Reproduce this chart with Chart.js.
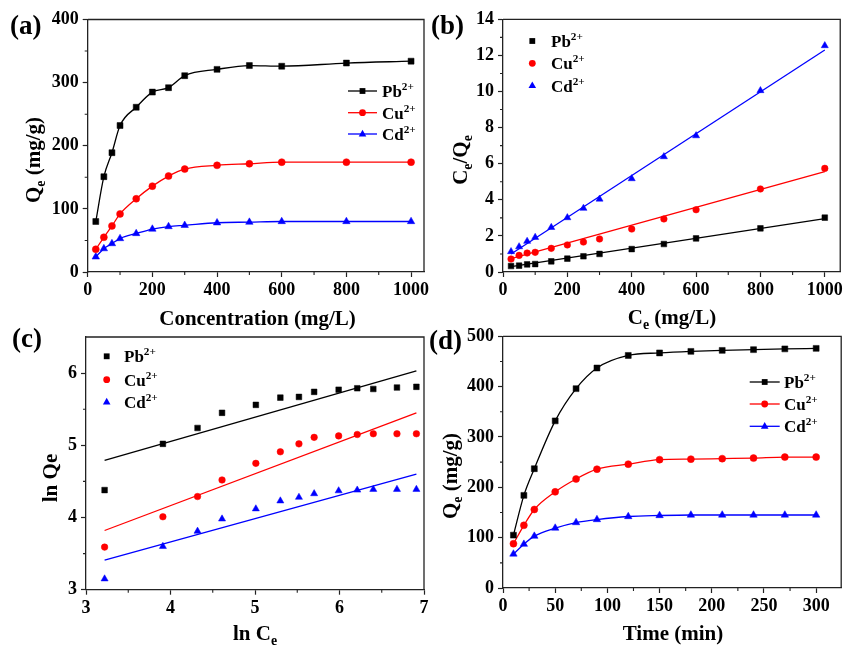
<!DOCTYPE html>
<html><head><meta charset="utf-8">
<script src="https://cdn.jsdelivr.net/npm/chart.js@4/dist/chart.umd.min.js"></script>
<style>
html,body{margin:0;padding:0;background:#fff;}
#wrap{position:relative;width:846px;height:646px;overflow:hidden;background:#fff}
canvas{position:absolute;left:0;top:0;}
</style></head><body><div id="wrap">
<canvas id="ca" width="846" height="646"></canvas>
<canvas id="cb" width="846" height="646"></canvas>
<canvas id="cc" width="846" height="646"></canvas>
<canvas id="cd" width="846" height="646"></canvas>
</div>
<script>
// ---------- DATA ----------
const ions = ['Pb', 'Cu', 'Cd'];
// (a) adsorption isotherm
const concX = [25, 50, 75, 100, 150, 200, 250, 300, 400, 500, 600, 800, 1000];
const aPb = [80, 151, 189, 232, 261, 285, 292, 311, 321, 327, 326, 331, 334];
const aCu = [36, 55, 73, 92, 116, 136, 152, 163, 169, 171.5, 174, 174, 174];
const aCd = [24, 37, 45, 53, 61, 68, 72, 74, 78, 79, 80, 80, 80];
const aXTicks = [0, 200, 400, 600, 800, 1000];
const aYTicks = [0, 100, 200, 300, 400];
// (b) Langmuir
const bPb = [0.33, 0.35, 0.42, 0.44, 0.59, 0.74, 0.87, 1.0, 1.27, 1.55, 1.86, 2.42, 3.01];
const bCu = [0.72, 0.92, 1.05, 1.09, 1.31, 1.50, 1.66, 1.83, 2.38, 2.94, 3.45, 4.60, 5.74];
const bCd = [1.13, 1.40, 1.70, 1.92, 2.47, 3.01, 3.53, 4.04, 5.17, 6.39, 7.55, 10.05, 12.54];
const bFitX = [25, 1000];
const bFitPb = [0.30, 2.96];
const bFitCu = [0.74, 5.56];
const bFitCd = [1.00, 12.30];
const bXTicks = [0, 200, 400, 600, 800, 1000];
const bYTicks = [0, 2, 4, 6, 8, 10, 12, 14];
// (c) Freundlich
const cX = [3.22, 3.91, 4.32, 4.61, 5.01, 5.30, 5.52, 5.70, 5.99, 6.21, 6.40, 6.68, 6.91];
const cPb = [4.38, 5.02, 5.24, 5.45, 5.56, 5.66, 5.67, 5.74, 5.77, 5.79, 5.78, 5.80, 5.81];
const cCu = [3.59, 4.01, 4.29, 4.52, 4.75, 4.91, 5.02, 5.11, 5.13, 5.15, 5.16, 5.16, 5.16];
const cCd = [3.15, 3.60, 3.81, 3.98, 4.12, 4.23, 4.28, 4.33, 4.37, 4.38, 4.39, 4.39, 4.39];
const cFitX = [3.22, 6.91];
const cFitPb = [4.79, 6.03];
const cFitCu = [3.82, 5.45];
const cFitCd = [3.41, 4.60];
const cXTicks = [3, 4, 5, 6, 7];
const cYTicks = [3, 4, 5, 6];
// (d) kinetics
const timeX = [10, 20, 30, 50, 70, 90, 120, 150, 180, 210, 240, 270, 300];
const dPb = [105, 184, 237, 332, 396, 437, 462, 467, 470, 472, 473.5, 475, 476];
const dCu = [88, 124.5, 156, 191, 216.5, 236, 246, 255, 256, 257, 258, 260, 260];
const dCd = [67.5, 87, 103, 119, 130, 136, 142, 144, 145, 145, 145, 145, 145];
const dXTicks = [0, 50, 100, 150, 200, 250, 300];
const dYTicks = [0, 100, 200, 300, 400, 500];

// ---------- STYLE ----------
const FONT = '"Liberation Serif", "Times New Roman", serif';
const AXC = '#222';
const colors = {Pb: '#000000', Cu: '#ff0000', Cd: '#0000ff'};
const styles = {Pb: 'rect', Cu: 'circle', Cd: 'triangle'};
const radii = {Pb: 4.2, Cu: 3.5, Cd: 4.3};
const AXW = 60, AXH = 40, W = 846, H = 646;

function pts(xs, ys) { return xs.map((x, i) => ({x: x, y: ys[i]})); }
function minorOf(ticks, max) {
  const out = [];
  const step = ticks[1] - ticks[0];
  ticks.forEach(t => { const m = t + step / 2; if (m < max - 1e-9) out.push(m); });
  return out;
}

function richText(ctx, segs, x, y, size, align, rot) {
  ctx.save();
  ctx.translate(x, y);
  if (rot) ctx.rotate(rot);
  let total = 0;
  const parts = segs.map(s => {
    const fs = (s.sub || s.sup) ? size * 0.66 : size;
    ctx.font = 'bold ' + fs + 'px ' + FONT;
    const w = ctx.measureText(s.t).width;
    total += w;
    return {s: s, fs: fs, w: w};
  });
  let cx = align === 'center' ? -total / 2 : 0;
  ctx.textBaseline = 'alphabetic';
  ctx.textAlign = 'left';
  ctx.fillStyle = '#000';
  parts.forEach(p => {
    ctx.font = 'bold ' + p.fs + 'px ' + FONT;
    const dy = p.s.sub ? size * 0.24 : (p.s.sup ? -size * 0.42 : 0);
    ctx.fillText(p.s.t, cx, dy + size * 0.35);
    cx += p.w;
  });
  ctx.restore();
}

function drawMarker(ctx, style, x, y, color) {
  ctx.save();
  ctx.fillStyle = color;
  ctx.beginPath();
  if (style === 'rect') {
    ctx.rect(x - 2.9, y - 2.9, 5.8, 5.8);
  } else if (style === 'circle') {
    ctx.arc(x, y, 3.4, 0, Math.PI * 2);
  } else {
    ctx.moveTo(x, y - 4.2);
    ctx.lineTo(x + 3.8, y + 2.4);
    ctx.lineTo(x - 3.8, y + 2.4);
    ctx.closePath();
  }
  ctx.fill();
  ctx.restore();
}

function makePanel(cfg) {
  const area = cfg.area;
  const tickFont = {family: FONT, size: 18, weight: 'bold'};
  const xMinor = minorOf(cfg.xTicks, cfg.xr[1]);
  const yMinor = minorOf(cfg.yTicks, cfg.yr[1]);
  const overlay = {
    id: 'overlay' + cfg.id,
    afterDraw(chart) {
      const ctx = chart.ctx;
      const ca = chart.chartArea;
      const xs = chart.scales.x, ys = chart.scales.y;
      ctx.save();
      ctx.strokeStyle = AXC;
      ctx.lineWidth = 1.3;
      ctx.beginPath();
      ctx.moveTo(ca.left, ca.top); ctx.lineTo(ca.right, ca.top); ctx.lineTo(ca.right, ca.bottom);
      ctx.stroke();
      ctx.lineWidth = 1.1;
      ctx.beginPath();
      xMinor.forEach(v => { const px = xs.getPixelForValue(v); ctx.moveTo(px, ca.bottom); ctx.lineTo(px, ca.bottom + 3); });
      yMinor.forEach(v => { const py = ys.getPixelForValue(v); ctx.moveTo(ca.left, py); ctx.lineTo(ca.left - 3, py); });
      ctx.stroke();
      ctx.restore();
      // titles
      richText(ctx, cfg.xTitle, cfg.xTitlePos[0], cfg.xTitlePos[1], 21, 'center', 0);
      richText(ctx, cfg.yTitle, cfg.yTitlePos[0], cfg.yTitlePos[1], 21, 'center', -Math.PI / 2);
      richText(ctx, [{t: cfg.label}], cfg.labelPos[0], cfg.labelPos[1], 27, 'left', 0);
      // legend
      const lg = cfg.legend;
      ions.forEach((ion, i) => {
        const y = lg.rows[i];
        if (lg.line) {
          ctx.save();
          ctx.strokeStyle = colors[ion];
          ctx.lineWidth = 1.3;
          ctx.beginPath(); ctx.moveTo(lg.line[0], y); ctx.lineTo(lg.line[1], y); ctx.stroke();
          ctx.restore();
        }
        drawMarker(ctx, styles[ion], lg.mx, y, colors[ion]);
        richText(ctx, [{t: ion}, {t: '2+', sup: true}], lg.tx, y, 17, 'left', 0);
      });
    }
  };
  return new Chart(document.getElementById(cfg.id), {
    type: 'scatter',
    data: {datasets: cfg.datasets},
    options: {
      responsive: false,
      animation: false,
      events: [],
      layout: {padding: {left: area.l - AXW, top: area.t, right: W - area.r, bottom: H - area.b - AXH}},
      plugins: {legend: {display: false}, tooltip: {enabled: false}},
      scales: {
        x: {
          type: 'linear', position: 'bottom', min: cfg.xr[0], max: cfg.xr[1],
          afterFit(s) { s.height = AXH; },
          afterBuildTicks(s) { s.ticks = cfg.xTicks.map(v => ({value: v})); },
          ticks: {padding: 3, maxRotation: 0, autoSkip: false, font: tickFont, color: '#000', callback: v => String(v)},
          grid: {drawOnChartArea: false, drawTicks: true, tickLength: 5, tickColor: AXC, tickWidth: 1.2},
          border: {display: true, color: AXC, width: 1.3}
        },
        y: {
          type: 'linear', position: 'left', min: cfg.yr[0], max: cfg.yr[1],
          afterFit(s) { s.width = AXW; },
          afterBuildTicks(s) { s.ticks = cfg.yTicks.map(v => ({value: v})); },
          ticks: {padding: 4, autoSkip: false, font: tickFont, color: '#000', callback: v => String(v)},
          grid: {drawOnChartArea: false, drawTicks: true, tickLength: 5, tickColor: AXC, tickWidth: 1.2},
          border: {display: true, color: AXC, width: 1.3}
        }
      }
    },
    plugins: [overlay]
  });
}

function curveSet(ion, xs, ys) {
  return {
    label: ion + '2+', data: pts(xs, ys), showLine: true,
    borderColor: colors[ion], backgroundColor: colors[ion], borderWidth: 1.3,
    cubicInterpolationMode: 'monotone',
    pointStyle: styles[ion], pointRadius: radii[ion], pointBorderWidth: 0.5,
    pointBorderColor: colors[ion], pointBackgroundColor: colors[ion]
  };
}
function pointSet(ion, xs, ys) {
  return {
    label: ion + '2+', data: pts(xs, ys), showLine: false,
    borderColor: colors[ion], backgroundColor: colors[ion],
    pointStyle: styles[ion], pointRadius: radii[ion] - 0.2, pointBorderWidth: 0.5,
    pointBorderColor: colors[ion], pointBackgroundColor: colors[ion]
  };
}
function fitSet(ion, xs, ys) {
  return {
    label: ion + ' fit', data: pts(xs, ys), showLine: true, pointRadius: 0,
    borderColor: colors[ion], borderWidth: 1.3, tension: 0
  };
}

makePanel({
  id: 'ca', area: {l: 87.7, t: 19.5, r: 424, b: 272}, xr: [0, 1040], yr: [0, 400],
  xTicks: aXTicks, yTicks: aYTicks,
  datasets: [curveSet('Pb', concX, aPb), curveSet('Cu', concX, aCu), curveSet('Cd', concX, aCd)],
  xTitle: [{t: 'Concentration (mg/L)'}], xTitlePos: [257.5, 318],
  yTitle: [{t: 'Q'}, {t: 'e', sub: true}, {t: ' (mg/g)'}], yTitlePos: [33, 160],
  label: '(a)', labelPos: [10, 25],
  legend: {line: [348, 377], mx: 362.5, tx: 382, rows: [91, 112.7, 134]}
});
makePanel({
  id: 'cb', area: {l: 503, t: 19.3, r: 841.3, b: 272}, xr: [0, 1048], yr: [0, 14],
  xTicks: bXTicks, yTicks: bYTicks,
  datasets: [pointSet('Pb', concX, bPb), pointSet('Cu', concX, bCu), pointSet('Cd', concX, bCd),
    fitSet('Pb', bFitX, bFitPb), fitSet('Cu', bFitX, bFitCu), fitSet('Cd', bFitX, bFitCd)],
  xTitle: [{t: 'C'}, {t: 'e', sub: true}, {t: ' (mg/L)'}], xTitlePos: [672, 317],
  yTitle: [{t: 'C'}, {t: 'e', sub: true}, {t: '/Q'}, {t: 'e', sub: true}], yTitlePos: [459.7, 160],
  label: '(b)', labelPos: [431, 25],
  legend: {line: null, mx: 532.3, tx: 551, rows: [41, 63.3, 85.7]}
});
makePanel({
  id: 'cc', area: {l: 86, t: 337, r: 424, b: 589.7}, xr: [3, 7], yr: [3, 6.5],
  xTicks: cXTicks, yTicks: cYTicks,
  datasets: [pointSet('Pb', cX, cPb), pointSet('Cu', cX, cCu), pointSet('Cd', cX, cCd),
    fitSet('Pb', cFitX, cFitPb), fitSet('Cu', cFitX, cFitCu), fitSet('Cd', cFitX, cFitCd)],
  xTitle: [{t: 'ln C'}, {t: 'e', sub: true}], xTitlePos: [255, 633],
  yTitle: [{t: 'ln Qe'}], yTitlePos: [50, 478],
  label: '(c)', labelPos: [12, 338],
  legend: {line: null, mx: 106.7, tx: 124, rows: [356.3, 379.7, 402]}
});
makePanel({
  id: 'cd', area: {l: 503, t: 336.3, r: 841.3, b: 588}, xr: [0, 324], yr: [0, 500],
  xTicks: dXTicks, yTicks: dYTicks,
  datasets: [curveSet('Pb', timeX, dPb), curveSet('Cu', timeX, dCu), curveSet('Cd', timeX, dCd)],
  xTitle: [{t: 'Time (min)'}], xTitlePos: [673, 633],
  yTitle: [{t: 'Q'}, {t: 'e', sub: true}, {t: ' (mg/g)'}], yTitlePos: [449.7, 476],
  label: '(d)', labelPos: [429, 340],
  legend: {line: [749.7, 779.7], mx: 764.7, tx: 784, rows: [382, 404, 426.3]}
});
</script>
</body></html>
